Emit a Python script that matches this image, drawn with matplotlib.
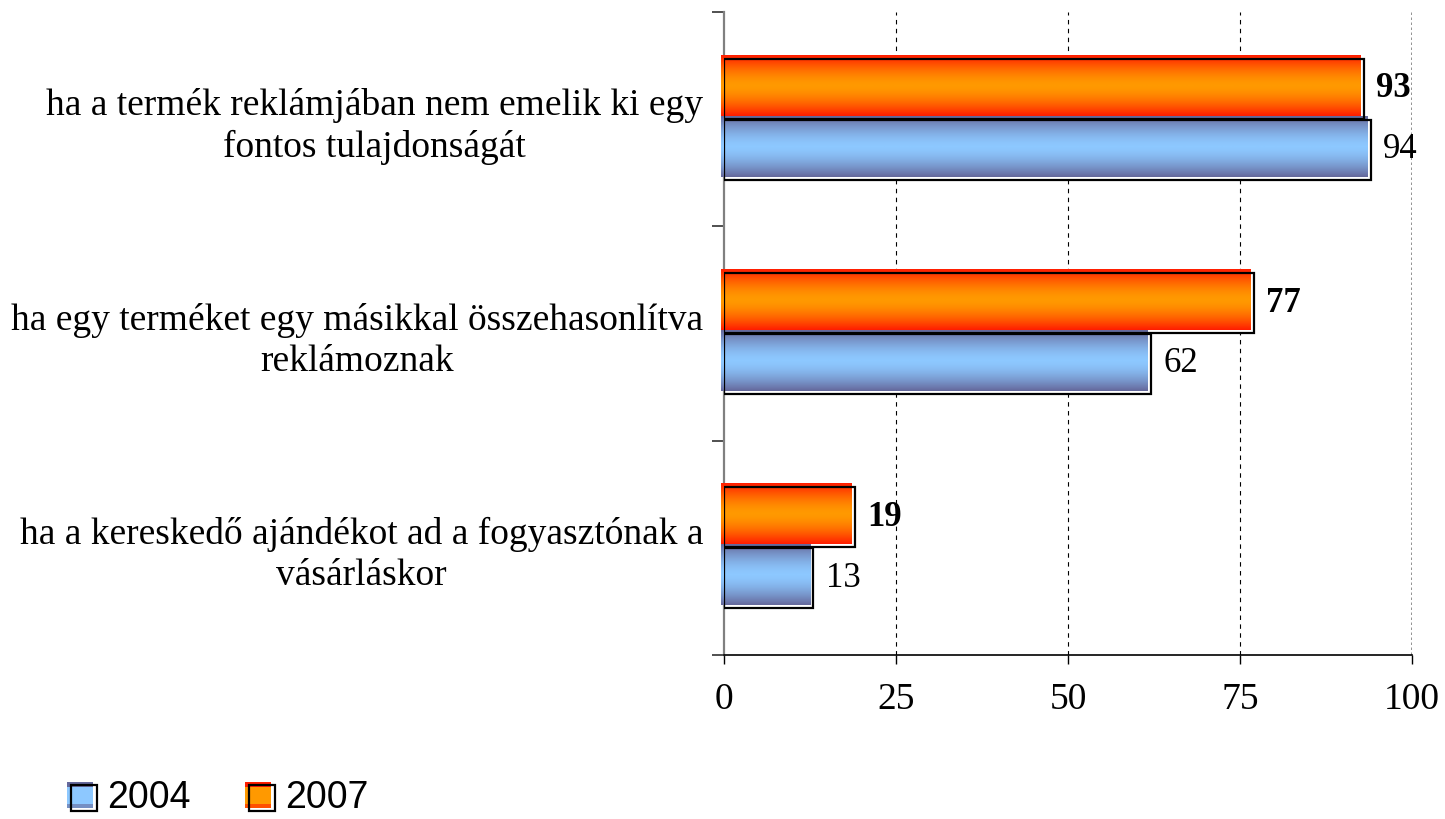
import numpy as np
import matplotlib
matplotlib.use("Agg")
import matplotlib.pyplot as plt
from matplotlib.colors import LinearSegmentedColormap
from matplotlib.patches import Rectangle, Patch
from matplotlib.legend_handler import HandlerBase

# data
categories = [
    "ha a termék reklámjában nem emelik ki egy\nfontos tulajdonságát",
    "ha egy terméket egy másikkal összehasonlítva\nreklámoznak",
    "ha a kereskedő ajándékot ad a fogyasztónak a\nvásárláskor",
]
years = ["2004", "2007"]
vals_2004 = [94, 62, 13]
vals_2007 = [93, 77, 19]

# colours: (edge, centre) of the bar gradients
grad_2004 = ("#65699c", "#8dc8ff")
grad_2007 = ("#ff1e00", "#ff9900")

plt.rcParams['font.family'] = ['Liberation Serif', 'DejaVu Serif']

W, H = 1445, 819
fig = plt.figure(figsize=(W / 100, H / 100), dpi=100)
ax = fig.add_axes([724 / W, 1 - 655 / H, (1412 - 724) / W, (655 - 12) / H])

pos = np.arange(len(categories))
bh = 0.28
off = 0.142
dx = 0.44   # gradient shifted ~3px left
dy = 0.014  # and ~3px up


def gradient_bars(y, vals, colors, bold):
    cmap = LinearSegmentedColormap.from_list("g", [colors[0], colors[1]])
    bars = ax.barh(y, vals, height=bh, color="white", edgecolor="none", zorder=2)
    ax.barh(y, vals, height=bh, color="none", edgecolor="black", lw=1.6, zorder=4)
    t = np.linspace(0, 1, 60)
    g = 1 - np.abs(2 * t - 1) ** 1.6
    img = g[:, None] * np.ones((1, 2))
    for b, v in zip(bars, vals):
        y0 = b.get_y()
        ax.imshow(img, cmap=cmap, aspect="auto", interpolation="bilinear",
                  extent=(-dx, v - dx, y0 + bh - dy, y0 - dy),
                  zorder=3, clip_on=False, vmin=0, vmax=1)
        ax.annotate(f"{v}", (v, y0 + bh / 2), xytext=(9, 0), textcoords="offset points",
                    va="center", ha="left", fontsize=25,
                    fontweight="bold" if bold else "normal")


gradient_bars(pos - off, vals_2007, grad_2007, True)
gradient_bars(pos + off, vals_2004, grad_2004, False)
ax.set_xlim(0, 100)
ax.set_ylim(2.5, -0.5)

# axes styling
for s in ["top", "right"]:
    ax.spines[s].set_visible(False)
ax.spines["left"].set_color("#808080")
ax.spines["left"].set_linewidth(1.6)
ax.spines["bottom"].set_linewidth(1.2)

ax.set_xticks([0, 25, 50, 75, 100])
ax.tick_params(axis="x", direction="out", length=6.5, width=1, labelsize=27, pad=13)
ax.grid(axis="x", color="black", linestyle=(0, (4, 4)), linewidth=0.8, zorder=1)
gl = ax.get_xgridlines()
gl[-1].set_color("#808080")
gl[-1].set_linestyle((0, (1.5, 1.5)))
gl[-1].set_linewidth(1.2)
gl[0].set_visible(False)

ax.set_yticks(pos)
ax.set_yticklabels(categories, fontsize=27, linespacing=1.25)
for lbl in ax.get_yticklabels():
    lbl.set_multialignment("center")
ax.set_yticks([-0.5, 0.5, 1.5, 2.5], minor=True)
ax.tick_params(axis="y", which="major", length=0, pad=15)
ax.tick_params(axis="y", which="minor", length=8.6, width=1.4, color="#505050")
ax.set_axisbelow(True)


class ShadowBox(HandlerBase):
    def __init__(self, colors):
        super().__init__()
        self.colors = colors

    def create_artists(self, legend, orig_handle, xdescent, ydescent,
                       width, height, fontsize, trans):
        s = height
        x0 = -xdescent + (width - s) / 2
        y0 = -ydescent
        o = 2.6
        box = Rectangle((x0 + o, y0 - o), s, s, fc="white", ec="none", transform=trans)
        face = Rectangle((x0, y0), s, s, fc=self.colors[1], ec="none", transform=trans)
        band = Rectangle((x0, y0 + 0.78 * s), s, 0.22 * s, fc=self.colors[0], ec="none",
                         transform=trans)
        band2 = Rectangle((x0, y0), s, 0.15 * s, fc=self.colors[0], ec="none", alpha=0.6,
                          transform=trans)
        edge = Rectangle((x0 + o, y0 - o), s, s, fc="none", ec="black", lw=1.6, transform=trans)
        return [box, face, band, band2, edge]


h04 = Patch(label=years[0])
h07 = Patch(label=years[1])
fig.legend([h04, h07], years, loc="lower left", bbox_to_anchor=(48 / W, -0.019),
           ncol=2, frameon=False, borderpad=0, handlelength=0.72, handleheight=0.7,
           handletextpad=0.35, columnspacing=1.45,
           prop={"family": "Liberation Sans", "size": 27},
           handler_map={h04: ShadowBox(grad_2004), h07: ShadowBox(grad_2007)})

fig.savefig("out.png", dpi=100)
